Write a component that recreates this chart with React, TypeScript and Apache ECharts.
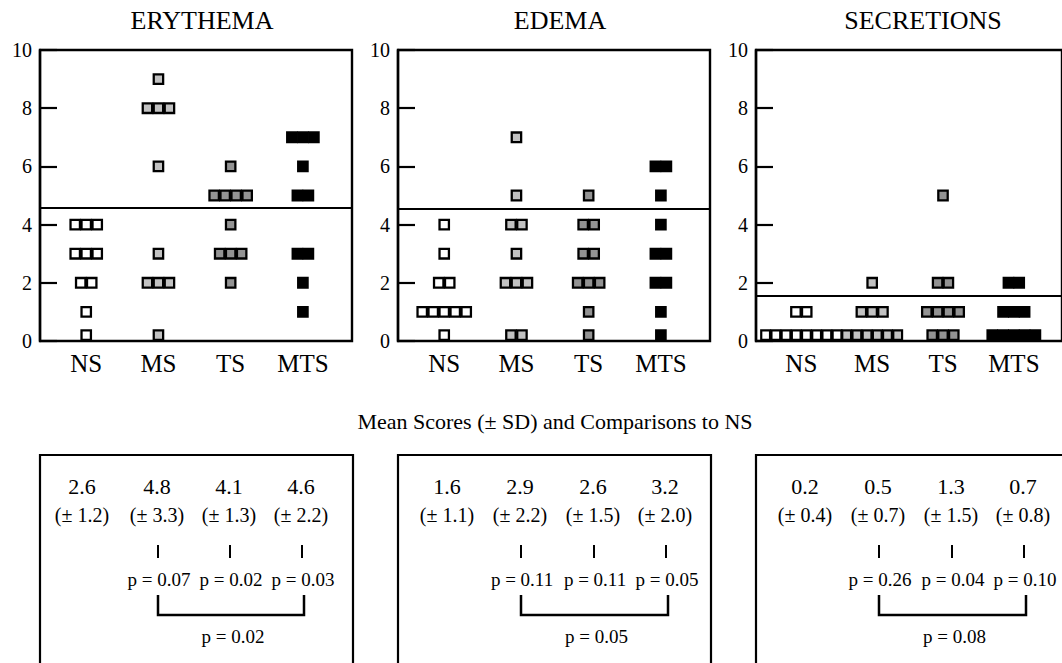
import React, { useEffect, useRef } from 'react';
import * as echarts from 'echarts';

// ---------- data ----------
const groups = ['NS', 'MS', 'TS', 'MTS'];
const panelTitles = ['ERYTHEMA', 'EDEMA', 'SECRETIONS'];
const heading = 'Mean Scores (\u00B1 SD) and Comparisons to NS';

// individual scores per subject (10 per group)
const erythemaNS = [4, 4, 4, 3, 3, 3, 2, 2, 1, 0];
const erythemaMS = [9, 8, 8, 8, 6, 3, 2, 2, 2, 0];
const erythemaTS = [6, 5, 5, 5, 5, 4, 3, 3, 3, 2];
const erythemaMTS = [7, 7, 7, 6, 5, 5, 3, 3, 2, 1];

const edemaNS = [4, 3, 2, 2, 1, 1, 1, 1, 1, 0];
const edemaMS = [7, 5, 4, 4, 3, 2, 2, 2, 0, 0];
const edemaTS = [5, 4, 4, 3, 3, 2, 2, 2, 1, 0];
const edemaMTS = [6, 6, 5, 4, 3, 3, 2, 2, 1, 0];

const secretionsNS = [1, 1, 0, 0, 0, 0, 0, 0, 0, 0];
const secretionsMS = [2, 1, 1, 1, 0, 0, 0, 0, 0, 0];
const secretionsTS = [5, 2, 2, 1, 1, 1, 1, 0, 0, 0];
const secretionsMTS = [2, 2, 1, 1, 1, 0, 0, 0, 0, 0];

// horizontal reference lines
const thresholds = [4.58, 4.56, 1.56];

// mean scores, SDs and p values
const erythemaMeans = [2.6, 4.8, 4.1, 4.6];
const erythemaSD = [1.2, 3.3, 1.3, 2.2];
const erythemaP = [0.07, 0.02, 0.03];
const erythemaPAll = 0.02;

const edemaMeans = [1.6, 2.9, 2.6, 3.2];
const edemaSD = [1.1, 2.2, 1.5, 2.0];
const edemaP = [0.11, 0.11, 0.05];
const edemaPAll = 0.05;

const secretionsMeans = [0.2, 0.5, 1.3, 0.7];
const secretionsSD = [0.4, 0.7, 1.5, 0.8];
const secretionsP = [0.26, 0.04, 0.1];
const secretionsPAll = 0.08;

const yTicks = [0, 2, 4, 6, 8, 10];

// ---------- layout / style ----------
const FONT = "'Liberation Serif', 'Times New Roman', 'DejaVu Serif', serif";
const groupColors = ['#ffffff', '#c2c2c2', '#939393', '#000000'];
const PANEL_LEFT = [40, 398, 756];
const PANEL_TOP = 50;
const PANEL_W = 312;
const PANEL_H = 291;
const X_MIN = -0.64;
const X_MAX = 3.68;
const PITCH_PX = 11;
const TIGHT_PITCH_PX = 10.4;
const TITLE_X = [202, 560, 923];
const BOX_COLS = [
  [82, 157, 229, 301],
  [447, 520, 593, 665],
  [805, 878, 951, 1023],
];

const panelScores = [
  [erythemaNS, erythemaMS, erythemaTS, erythemaMTS],
  [edemaNS, edemaMS, edemaTS, edemaMTS],
  [secretionsNS, secretionsMS, secretionsTS, secretionsMTS],
];
const panelStats = [
  { means: erythemaMeans, sd: erythemaSD, p: erythemaP, pAll: erythemaPAll },
  { means: edemaMeans, sd: edemaSD, p: edemaP, pAll: edemaPAll },
  { means: secretionsMeans, sd: secretionsSD, p: secretionsP, pAll: secretionsPAll },
];

const unitPx = PANEL_W / (X_MAX - X_MIN);

function buildPoints(scores: number[], cat: number) {
  const counts = new Map<number, number>();
  for (const s of scores) counts.set(s, (counts.get(s) || 0) + 1);
  const out: any[] = [];
  counts.forEach((n, v) => {
    const pitchPx = n >= 6 ? TIGHT_PITCH_PX : PITCH_PX;
    const step = pitchPx / unitPx;
    for (let k = 0; k < n; k++) {
      out.push({
        value: [cat + (k - (n - 1) / 2) * step, v],
        symbolSize: [pitchPx - 1.6, 9.6],
        symbolOffset: v === 0 ? [0, -5.8] : [0, 0],
      });
    }
  });
  return out;
}

function textEl(x: number, y: number, text: string, size: number) {
  return {
    type: 'text',
    x,
    y,
    style: {
      text,
      font: `${size}px ${FONT}`,
      fill: '#000',
      textAlign: 'center',
      textVerticalAlign: 'middle',
    },
  };
}

function buildOption() {
  const grid: any[] = [];
  const xAxis: any[] = [];
  const yAxis: any[] = [];
  const series: any[] = [];
  const graphic: any[] = [];

  panelScores.forEach((groupScores, p) => {
    grid.push({
      left: PANEL_LEFT[p],
      top: PANEL_TOP,
      width: PANEL_W,
      height: PANEL_H,
      show: true,
      borderColor: '#000',
      borderWidth: 2.4,
      backgroundColor: 'transparent',
      containLabel: false,
    });
    xAxis.push({
      gridIndex: p,
      type: 'value',
      min: X_MIN,
      max: X_MAX,
      axisLine: { show: false, onZero: false },
      axisTick: { show: false },
      splitLine: { show: false },
      axisLabel: {
        customValues: [0, 1, 2, 3],
        formatter: (v: number) => (Number.isInteger(v) && groups[v] ? groups[v] : ''),
        fontSize: 25,
        fontFamily: FONT,
        color: '#000',
        margin: 10,
      },
    });
    yAxis.push({
      gridIndex: p,
      type: 'value',
      min: 0,
      max: 10,
      interval: 2,
      axisLine: { show: true, onZero: false, lineStyle: { color: '#000', width: 2.4 } },
      axisTick: { show: true, inside: true, length: 17, lineStyle: { color: '#000', width: 2.2 } },
      splitLine: { show: false },
      axisLabel: {
        fontSize: 20,
        fontFamily: FONT,
        color: '#000',
        margin: 8,
        formatter: (v: number) => (yTicks.includes(v) ? String(v) : ''),
      },
    });
    groupScores.forEach((scores, g) => {
      const s: any = {
        type: 'scatter',
        name: groups[g],
        xAxisIndex: p,
        yAxisIndex: p,
        symbol: 'rect',
        data: buildPoints(scores, g),
        itemStyle: { color: groupColors[g], borderColor: '#000', borderWidth: 2.3, opacity: 1 },
        silent: true,
        z: 3,
      };
      if (g === 0) {
        s.markLine = {
          silent: true,
          symbol: ['none', 'none'],
          label: { show: false },
          lineStyle: { color: '#000', width: 2, type: 'solid' },
          data: [{ yAxis: thresholds[p] }],
        };
      }
      series.push(s);
    });

    // panel title
    graphic.push(textEl(TITLE_X[p], 20, panelTitles[p], 26));

    // summary box
    const left = PANEL_LEFT[p];
    const cols = BOX_COLS[p];
    const st = panelStats[p];
    graphic.push({
      type: 'rect',
      shape: { x: left, y: 455, width: 313, height: 240 },
      style: { fill: 'none', stroke: '#000', lineWidth: 2.2 },
    });
    st.means.forEach((m, i) => {
      graphic.push(textEl(cols[i], 486, m.toFixed(1), 22));
      graphic.push(textEl(cols[i], 515, `(\u00B1 ${st.sd[i].toFixed(1)})`, 20));
    });
    st.p.forEach((pv, j) => {
      const cx = cols[j + 1] + 1;
      graphic.push({
        type: 'line',
        shape: { x1: cx, y1: 545, x2: cx, y2: 558 },
        style: { stroke: '#000', lineWidth: 2 },
      });
      graphic.push(textEl(cx + 1, 579, `p = ${pv.toFixed(2)}`, 19));
    });
    const bx1 = cols[1] + 1;
    const bx2 = cols[3] + 3;
    graphic.push({
      type: 'polyline',
      shape: { points: [[bx1, 595], [bx1, 615], [bx2, 615], [bx2, 595]] },
      style: { stroke: '#000', lineWidth: 2.5, fill: 'none' },
    });
    graphic.push(textEl((bx1 + bx2) / 2 + 2, 636, `p = ${st.pAll.toFixed(2)}`, 19));
  });

  graphic.push(textEl(555, 421, heading, 22));

  return {
    animation: false,
    backgroundColor: '#ffffff',
    grid,
    xAxis,
    yAxis,
    series,
    graphic,
  };
}

export default function App() {
  const ref = useRef<HTMLDivElement>(null);
  useEffect(() => {
    document.body.style.margin = '0';
    if (!ref.current) return;
    const chart = echarts.init(ref.current, null, { renderer: 'svg' });
    chart.setOption(buildOption() as any);
    return () => chart.dispose();
  }, []);
  return <div ref={ref} style={{ width: 1062, height: 663 }} />;
}
